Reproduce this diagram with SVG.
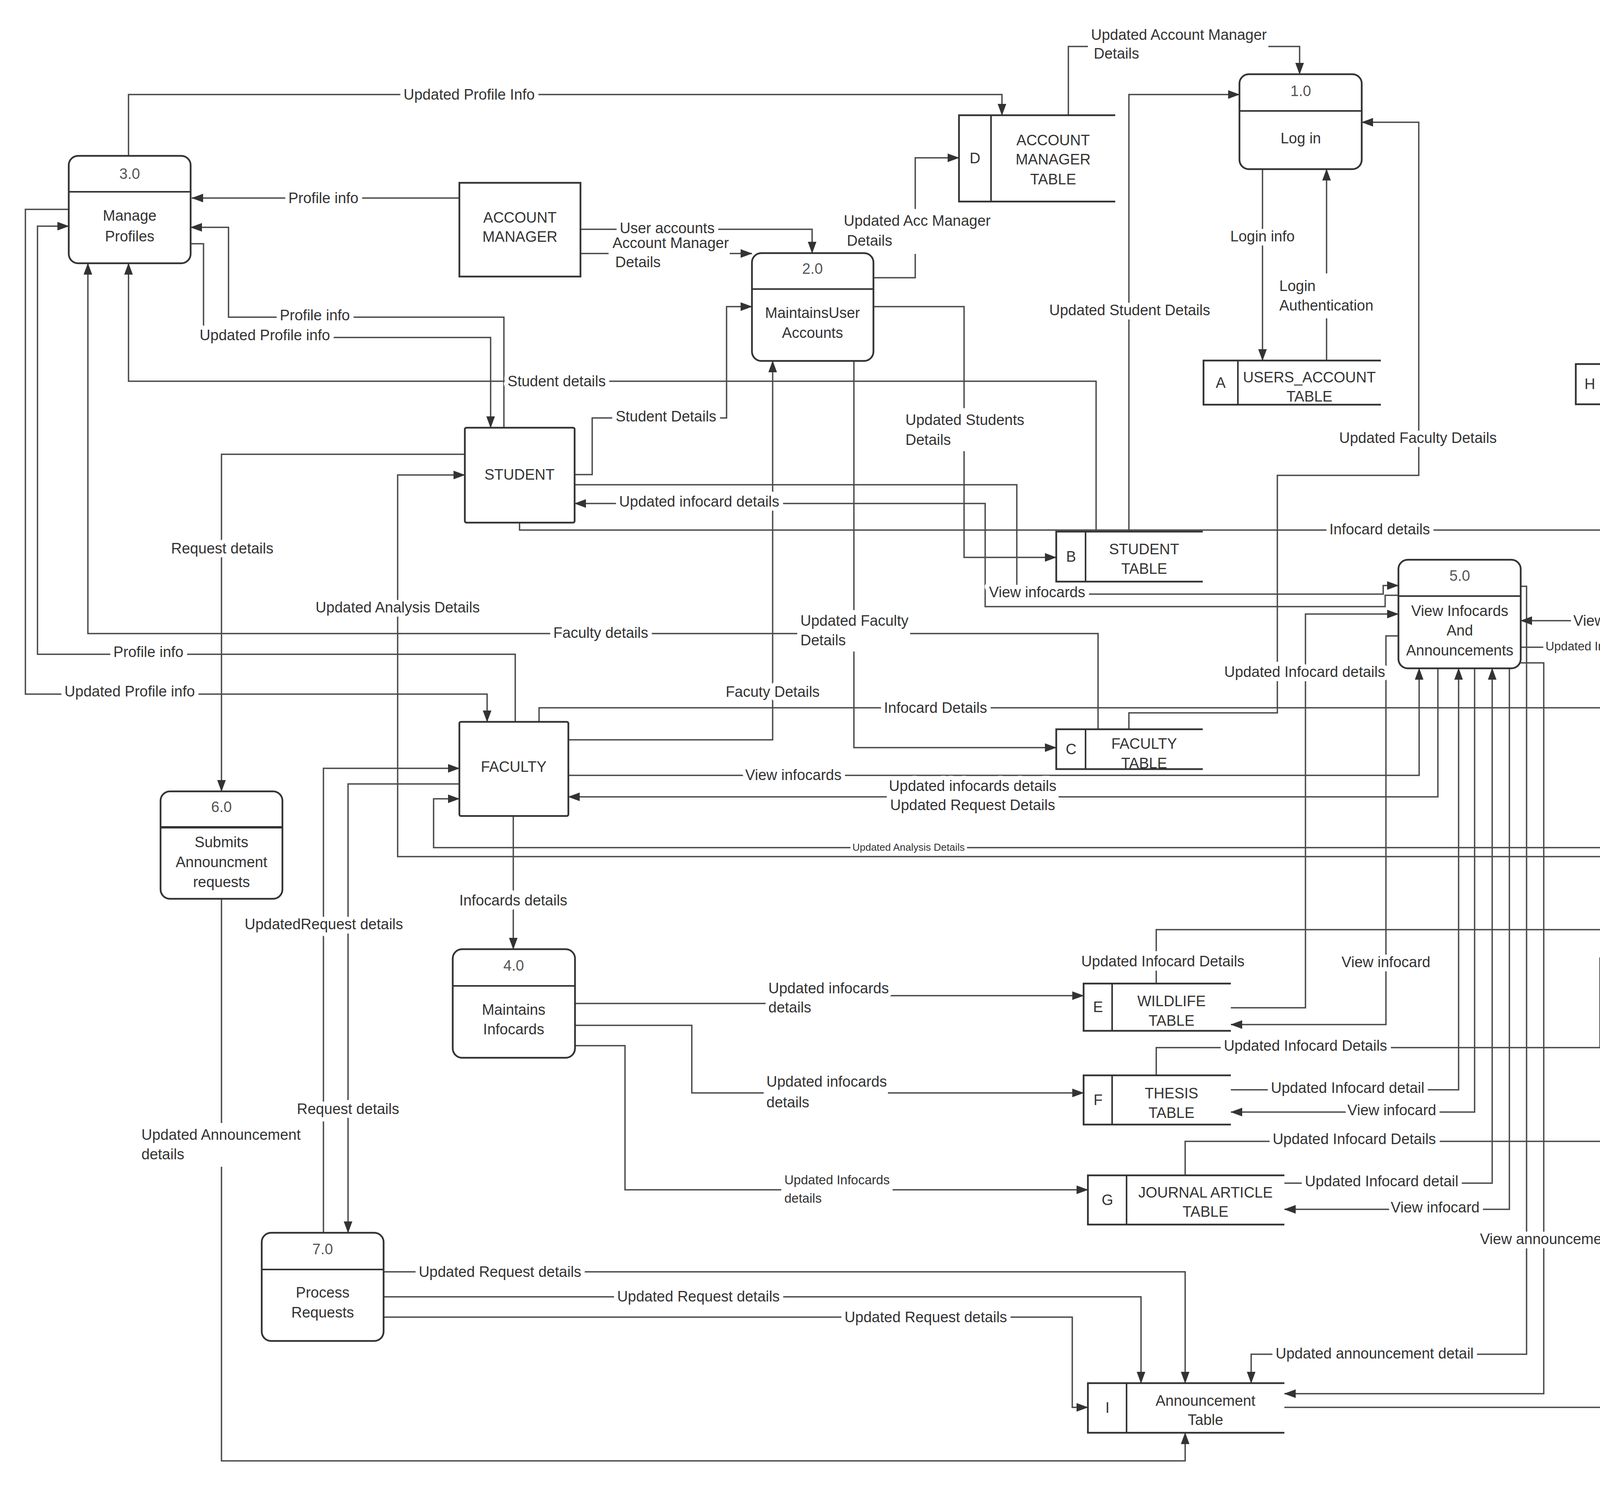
<svg xmlns="http://www.w3.org/2000/svg" width="5160" height="3812" viewBox="0 0 5160 3812">
<style>
.n{fill:#fff;stroke:#333;stroke-width:4.5}
.dv{stroke:#333;stroke-width:4}
.s{fill:none;stroke:#333;stroke-width:4.5}
.t{font-family:"Liberation Sans",Arial,sans-serif;font-size:38px;fill:#333;text-anchor:middle}
.num{fill:#555}
.c{fill:none;stroke:#4a4a4a;stroke-width:3.5;marker-end:url(#ah)}
.l{font-family:"Liberation Sans",Arial,sans-serif;font-size:38px;fill:#333;text-anchor:middle;stroke:#fff;stroke-width:22;stroke-linejoin:round;paint-order:stroke}
.ls{text-anchor:start}
.bg{fill:#fff}
</style>
<defs>
<marker id="ah" markerWidth="30" markerHeight="22" refX="29" refY="11" orient="auto" markerUnits="userSpaceOnUse"><path d="M0,0 L30,11 L0,22 z" fill="#333"/></marker>
</defs>
<rect width="5160" height="3812" fill="#fff"/>

<g id="connectors">
<path class="c" d="M329,399 V242 H2565 V295"/>
<path class="c" d="M1176,507 H491"/>
<path class="c" d="M1486,587 H2079 V648"/>
<path class="c" d="M1486,649 H1925"/>
<path class="c" d="M2236,711 H2343 V404 H2455"/>
<path class="c" d="M2735,295 V119 H3327 V190"/>
<path class="c" d="M2890,1361 V242 H3173"/>
<path class="c" d="M3232,433 V923"/>
<path class="c" d="M3396,923 V433"/>
<path class="c" d="M2890,1867 V1825 H3270 V1217 H3632 V313 H3486"/>
<path class="c" d="M1290,1095 V812 H585 V582 H488"/>
<path class="c" d="M488,624 H521 V864 H1256 V1095"/>
<path class="c" d="M2806,1361 V976 H329 V674"/>
<path class="c" d="M1471,1215 H1516 V1070 H1860 V785 H1925"/>
<path class="c" d="M2236,785 H2468 V1427 H2704"/>
<path class="c" d="M1471,1241 H2603 V1521 H3541 V1499 H3580"/>
<path class="c" d="M3580,1524 H3546 V1553 H2522 V1289 H1471"/>
<path class="c" d="M1330,1338 V1357 H4220 V1035"/>
<path class="c" d="M1190,1163 H567 V2026"/>
<path class="c" d="M4342,2241 V2193 H1018 V1216 H1190"/>
<path class="c" d="M4357,2241 V2170 H1110 V2045 H1176"/>
<path class="c" d="M2811,1867 V1622 H225 V674"/>
<path class="c" d="M1319,1848 V1675 H96 V579 H176"/>
<path class="c" d="M176,536 H65 V1777 H1247 V1848"/>
<path class="c" d="M2186,924 V1914 H2704"/>
<path class="c" d="M1455,1894 H1978 V924"/>
<path class="c" d="M1380,1848 V1812 H4317 V1035"/>
<path class="c" d="M1455,1985 H3633 V1711"/>
<path class="c" d="M3681,1711 V2040 H1455"/>
<path class="c" d="M1314,2089 V2430"/>
<path class="c" d="M828,3156 V1967 H1176"/>
<path class="c" d="M1176,2007 H891 V3156"/>
<path class="c" d="M567,2301 V3740 H3034 V3668"/>
<path class="c" d="M1472,2569 H2100 V2549 H2774"/>
<path class="c" d="M1472,2625 H1771 V2798 H2774"/>
<path class="c" d="M1472,2677 H1600 V3046 H2785"/>
<path class="c" d="M2960,2518 V2380 H4203"/>
<path class="c" d="M3151,2580 H3342 V1572 H3580"/>
<path class="c" d="M3580,1628 H3548 V2623 H3151"/>
<path class="c" d="M2960,2753 V2682 H4096 V2453 H4203"/>
<path class="c" d="M3151,2790 H3734 V1711"/>
<path class="c" d="M3775,1711 V2847 H3151"/>
<path class="c" d="M3034,3009 V2922 H4358 V2517"/>
<path class="c" d="M3288,3029 H3820 V1711"/>
<path class="c" d="M3864,1711 V3096 H3288"/>
<path class="c" d="M3893,1697 H3952 V3568 H3288"/>
<path class="c" d="M3893,1501 H3908 V3467 H3203 V3541"/>
<path class="c" d="M3288,3603 H4458 V2517"/>
<path class="c" d="M4407,984 H4865 V2380 H4516"/>
<path class="c" d="M4563,1589 H3893"/>
<path class="c" d="M3893,1657 H4563"/>
<path class="c" d="M982,3256 H3034 V3541"/>
<path class="c" d="M982,3320 H2921 V3541"/>
<path class="c" d="M982,3372 H2745 V3603 H2785"/>

<!-- label backgrounds for multi-line labels -->
<rect class="bg" x="1558" y="600" width="310" height="100"/>
<rect class="bg" x="2152" y="535" width="393" height="115"/>
<rect class="bg" x="2785" y="60" width="462" height="105"/>
<rect class="bg" x="3268" y="700" width="256" height="115"/>
<rect class="bg" x="2310" y="1045" width="320" height="110"/>
<rect class="bg" x="2041" y="1562" width="289" height="106"/>
<rect class="bg" x="2270" y="1992" width="440" height="96"/>
<rect class="bg" x="354" y="2875" width="406" height="112"/>
<rect class="bg" x="1960" y="2500" width="318" height="108"/>
<rect class="bg" x="1955" y="2740" width="318" height="108"/>
<rect class="bg" x="2000" y="2995" width="285" height="92"/>
<rect class="bg" x="4270" y="3050" width="395" height="108"/>

<text class="l" x="1201" y="255">Updated Profile Info</text>
<text class="l" x="828" y="520">Profile info</text>
<text class="l" x="1708" y="597">User accounts</text>
<text class="l ls" x="1568" y="635">Account Manager</text>
<text class="l ls" x="1575" y="684">Details</text>
<text class="l ls" x="2160" y="578">Updated Acc Manager</text>
<text class="l ls" x="2168" y="629">Details</text>
<text class="l ls" x="2793" y="102">Updated Account Manager</text>
<text class="l ls" x="2800" y="150">Details</text>
<text class="l" x="2892" y="807">Updated Student Details</text>
<text class="l" x="3232" y="618">Login info</text>
<text class="l ls" x="3275" y="745">Login</text>
<text class="l ls" x="3275" y="795">Authentication</text>
<text class="l" x="3630" y="1134">Updated Faculty Details</text>
<text class="l" x="806" y="820">Profile info</text>
<text class="l" x="678" y="871">Updated Profile info</text>
<text class="l" x="1425" y="989">Student details</text>
<text class="l" x="1705" y="1079">Student Details</text>
<text class="l ls" x="2318" y="1088">Updated Students</text>
<text class="l ls" x="2318" y="1139">Details</text>
<text class="l" x="2655" y="1529">View infocards</text>
<text class="l" x="1790" y="1297">Updated infocard  details</text>
<text class="l" x="3532" y="1368">Infocard details</text>
<text class="l" x="569" y="1417">Request details</text>
<text class="l" x="1018" y="1568">Updated  Analysis Details</text>
<text class="l" x="2326" y="2178" style="font-size:26px;stroke-width:14">Updated Analysis Details</text>
<text class="l" x="1538" y="1633">Faculty details</text>
<text class="l" x="380" y="1682">Profile info</text>
<text class="l" x="332" y="1783">Updated Profile info</text>
<text class="l ls" x="2049" y="1602">Updated Faculty</text>
<text class="l ls" x="2049" y="1652">Details</text>
<text class="l" x="1978" y="1784">Facuty Details</text>
<text class="l" x="2395" y="1825">Infocard Details</text>
<text class="l" x="2031" y="1997">View infocards</text>
<text class="l" x="2490" y="2025">Updated infocards details</text>
<text class="l" x="2490" y="2074">Updated Request Details</text>
<text class="l" x="1314" y="2318">Infocards details</text>
<text class="l" x="829" y="2379">UpdatedRequest details</text>
<text class="l" x="891" y="2852">Request details</text>
<text class="l ls" x="362" y="2918">Updated Announcement</text>
<text class="l ls" x="362" y="2968">details</text>
<text class="l ls" x="1967" y="2543">Updated infocards</text>
<text class="l ls" x="1967" y="2592">details</text>
<text class="l ls" x="1962" y="2782">Updated infocards</text>
<text class="l ls" x="1962" y="2835">details</text>
<text class="l ls" x="2008" y="3032" style="font-size:33px">Updated Infocards</text>
<text class="l ls" x="2008" y="3079" style="font-size:33px">details</text>
<text class="l" x="2977" y="2474">Updated Infocard Details</text>
<text class="l" x="3340" y="1733">Updated Infocard details</text>
<text class="l" x="3548" y="2476">View infocard</text>
<text class="l" x="3342" y="2690">Updated Infocard Details</text>
<text class="l" x="3450" y="2798">Updated Infocard detail</text>
<text class="l" x="3563" y="2855">View infocard</text>
<text class="l" x="3467" y="2929">Updated Infocard Details</text>
<text class="l" x="3537" y="3037">Updated Infocard detail</text>
<text class="l" x="3674" y="3104">View infocard</text>
<text class="l" x="3970" y="3185">View announcements</text>
<text class="l" x="3519" y="3478">Updated announcement detail</text>
<text class="l ls" x="4277" y="3093">Updated announcement</text>
<text class="l ls" x="4277" y="3142">details</text>
<text class="l" x="4866" y="1188">updated contribution details</text>
<text class="l" x="4264" y="1602">View Info and Annoucement</text>
<text class="l" x="4227" y="1665" style="font-size:31px;stroke-width:16">Updated Info And Annoucement Details</text>
<text class="l" x="1280" y="3269">Updated Request details</text>
<text class="l" x="1788" y="3332">Updated Request details</text>
<text class="l" x="2370" y="3385">Updated Request details</text>
</g>

<g id="p3">
<rect class="n" x="176" y="399" width="312" height="275" rx="24"/>
<line class="dv" x1="176" y1="491" x2="488" y2="491"/>
<text class="t num" x="332" y="458">3.0</text>
<text class="t" x="332" y="565">Manage</text>
<text class="t" x="332" y="618">Profiles</text>
</g>
<g id="p1">
<rect class="n" x="3173" y="190" width="313" height="243" rx="24"/>
<line class="dv" x1="3173" y1="284" x2="3486" y2="284"/>
<text class="t num" x="3330" y="246">1.0</text>
<text class="t" x="3330" y="367">Log in</text>
</g>
<g id="p2">
<rect class="n" x="1925" y="648" width="311" height="276" rx="24"/>
<line class="dv" x1="1925" y1="740" x2="2236" y2="740"/>
<text class="t num" x="2080" y="701">2.0</text>
<text class="t" x="2080" y="814">MaintainsUser</text>
<text class="t" x="2080" y="865">Accounts</text>
</g>
<g id="p5">
<rect class="n" x="3580" y="1433" width="313" height="278" rx="24"/>
<line class="dv" x1="3580" y1="1526" x2="3893" y2="1526"/>
<text class="t num" x="3737" y="1487">5.0</text>
<text class="t" x="3737" y="1577">View Infocards</text>
<text class="t" x="3737" y="1627">And</text>
<text class="t" x="3737" y="1678">Announcements</text>
</g>
<g id="p6">
<rect class="n" x="411" y="2026" width="312" height="275" rx="24"/>
<line class="dv" x1="411" y1="2118" x2="723" y2="2118" style="stroke-width:6"/>
<text class="t num" x="567" y="2079">6.0</text>
<text class="t" x="567" y="2169">Submits</text>
<text class="t" x="567" y="2220">Announcment</text>
<text class="t" x="567" y="2271">requests</text>
</g>
<g id="p8">
<rect class="n" x="4203" y="2241" width="313" height="276" rx="24"/>
<line class="dv" x1="4203" y1="2335" x2="4516" y2="2335"/>
<text class="t num" x="4360" y="2296">8.0</text>
<text class="t" x="4360" y="2409">Database</text>
<text class="t" x="4360" y="2459">Analysis</text>
</g>
<g id="p4">
<rect class="n" x="1159" y="2430" width="313" height="278" rx="24"/>
<line class="dv" x1="1159" y1="2524" x2="1472" y2="2524"/>
<text class="t num" x="1315" y="2485">4.0</text>
<text class="t" x="1315" y="2598">Maintains</text>
<text class="t" x="1315" y="2648">Infocards</text>
</g>
<g id="p7">
<rect class="n" x="670" y="3156" width="312" height="277" rx="24"/>
<line class="dv" x1="670" y1="3250" x2="982" y2="3250"/>
<text class="t num" x="826" y="3211">7.0</text>
<text class="t" x="826" y="3322">Process</text>
<text class="t" x="826" y="3373">Requests</text>
</g>

<g id="account-manager">
<rect class="n" x="1176" y="468" width="310" height="240"/>
<text class="t" x="1331" y="570">ACCOUNT</text>
<text class="t" x="1331" y="619">MANAGER</text>
</g>
<g id="student">
<rect class="n" x="1190" y="1095" width="281" height="243" rx="4"/>
<text class="t" x="1330" y="1228">STUDENT</text>
</g>
<g id="faculty">
<rect class="n" x="1176" y="1848" width="279" height="241" rx="4"/>
<text class="t" x="1315" y="1976">FACULTY</text>
</g>
<g id="guest">
<rect class="n" x="4563" y="1468" width="282" height="242" rx="4"/>
<text class="t" x="4704" y="1596">GUEST</text>
</g>

<g id="store-d">
<rect class="bg" x="2455" y="295" width="400" height="221"/>
<path class="s" d="M2855,295 H2455 V516 H2855"/>
<line class="dv" x1="2537" y1="295" x2="2537" y2="516"/>
<text class="t" x="2496" y="418">D</text>
<text class="t" x="2696" y="372">ACCOUNT</text>
<text class="t" x="2696" y="421">MANAGER</text>
<text class="t" x="2696" y="472">TABLE</text>
</g>
<g id="store-a">
<rect class="bg" x="3081" y="923" width="454" height="113"/>
<path class="s" d="M3535,923 H3081 V1036 H3535"/>
<line class="dv" x1="3169" y1="923" x2="3169" y2="1036"/>
<text class="t" x="3125" y="993">A</text>
<text class="t" x="3352" y="979">USERS_ACCOUNT</text>
<text class="t" x="3352" y="1028">TABLE</text>
</g>
<g id="store-h">
<rect class="bg" x="4034" y="932" width="373" height="103"/>
<path class="s" d="M4407,932 H4034 V1035 H4407"/>
<line class="dv" x1="4106" y1="932" x2="4106" y2="1035"/>
<text class="t" x="4070" y="996">H</text>
<text class="t" x="4257" y="986">CONTRIBUTION</text>
<text class="t" x="4257" y="1029">TABLE</text>
</g>
<g id="store-b">
<rect class="bg" x="2704" y="1361" width="375" height="128"/>
<path class="s" d="M3079,1361 H2704 V1489 H3079"/>
<line class="dv" x1="2779" y1="1361" x2="2779" y2="1489"/>
<text class="t" x="2742" y="1438">B</text>
<text class="t" x="2929" y="1419">STUDENT</text>
<text class="t" x="2929" y="1469">TABLE</text>
</g>
<g id="store-c">
<rect class="bg" x="2704" y="1867" width="375" height="102"/>
<path class="s" d="M3079,1867 H2704 V1969 H3079"/>
<line class="dv" x1="2779" y1="1867" x2="2779" y2="1969"/>
<text class="t" x="2742" y="1931">C</text>
<text class="t" x="2929" y="1917">FACULTY</text>
<text class="t" x="2929" y="1967">TABLE</text>
</g>
<g id="store-e">
<rect class="bg" x="2774" y="2518" width="377" height="121"/>
<path class="s" d="M3151,2518 H2774 V2639 H3151"/>
<line class="dv" x1="2847" y1="2518" x2="2847" y2="2639"/>
<text class="t" x="2811" y="2591">E</text>
<text class="t" x="2999" y="2576">WILDLIFE</text>
<text class="t" x="2999" y="2626">TABLE</text>
</g>
<g id="store-f">
<rect class="bg" x="2774" y="2753" width="377" height="126"/>
<path class="s" d="M3151,2753 H2774 V2879 H3151"/>
<line class="dv" x1="2847" y1="2753" x2="2847" y2="2879"/>
<text class="t" x="2811" y="2829">F</text>
<text class="t" x="2999" y="2812">THESIS</text>
<text class="t" x="2999" y="2862">TABLE</text>
</g>
<g id="store-g">
<rect class="bg" x="2785" y="3009" width="503" height="126"/>
<path class="s" d="M3288,3009 H2785 V3135 H3288"/>
<line class="dv" x1="2884" y1="3009" x2="2884" y2="3135"/>
<text class="t" x="2835" y="3085">G</text>
<text class="t" x="3086" y="3066">JOURNAL ARTICLE</text>
<text class="t" x="3086" y="3115">TABLE</text>
</g>
<g id="store-i">
<rect class="bg" x="2785" y="3541" width="503" height="127"/>
<path class="s" d="M3288,3541 H2785 V3668 H3288"/>
<line class="dv" x1="2884" y1="3541" x2="2884" y2="3668"/>
<text class="t" x="2835" y="3617">I</text>
<text class="t" x="3086" y="3599">Announcement</text>
<text class="t" x="3086" y="3648">Table</text>
</g>
</svg>
